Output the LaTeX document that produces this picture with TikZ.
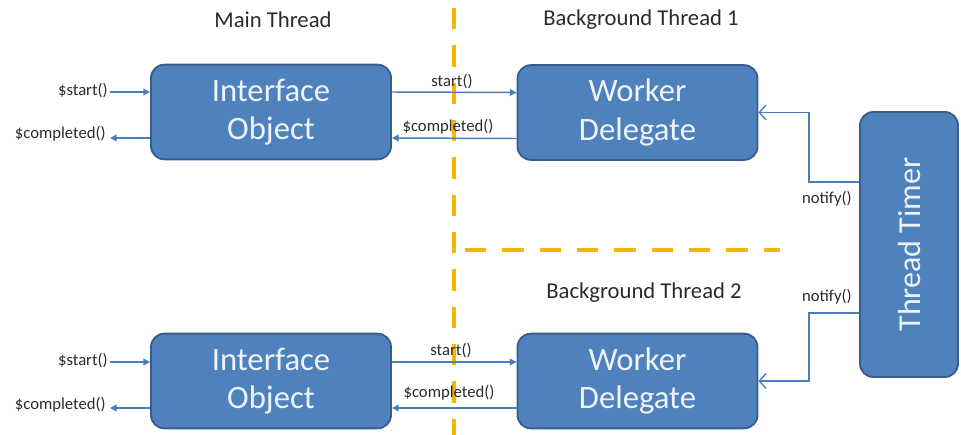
\documentclass[tikz,border=0pt]{standalone}
\usepackage{fontspec}
\usepackage{graphicx}
\setmainfont{Carlito}
\usetikzlibrary{arrows.meta,calc}
\definecolor{boxfill}{HTML}{4F81BD}
\definecolor{boxline}{HTML}{385D8A}
\definecolor{connc}{HTML}{4A7EBB}
\definecolor{threadc}{HTML}{F7B500}
\definecolor{txtc}{HTML}{2B2B2B}
\definecolor{boxtxt}{HTML}{EEF3FA}
\begin{document}
\begin{tikzpicture}[x=0.75pt,y=-0.75pt,
  box/.style={draw=boxline,line width=1.4pt,fill=boxfill,rounded corners=10pt,
    text=boxtxt,align=center,font=\fontsize{24.5}{29}\selectfont,
    minimum width=180pt,minimum height=71pt,inner sep=0pt},
  small/.style={text=txtc,font=\fontsize{12.5}{14}\selectfont,inner sep=0pt},
  header/.style={text=txtc,font=\fontsize{17}{20}\selectfont,inner sep=0pt},
  conn/.style={draw=connc,line width=1.1pt,-{Triangle[length=5pt,width=5pt]}},
  notifyline/.style={draw=connc,line width=1.1pt,-{Straight Barb[length=5pt,width=11pt,line width=1pt]}},
  ydash/.style={draw=threadc,line width=3pt,dash pattern=on 16pt off 12pt}]
\useasboundingbox (0,0) rectangle (961,435);

% thread separators
\draw[ydash] (454,8) -- (454,435);
\draw[ydash] (465,250) -- (780,250);

% boxes
\node[box] (io1) at (271,112) {Interface\\Object};
\node[box] (wd1) at (637.5,112.5) {Worker\\Delegate};
\node[box] (io2) at (271,381) {Interface\\Object};
\node[box] (wd2) at (637.5,381) {Worker\\Delegate};
\node[box,minimum width=73.5pt,minimum height=198.75pt,font=\fontsize{24}{28}\selectfont] (tt) at (909,244.5) {\rotatebox{90}{Thread Timer}};

% headers
\node[header] (h0) at (273,20) {Main Thread};
\node[header] (h1) at (641,20) {Background Thread 1};
\node[header] (h2) at (644,293) {Background Thread 2};

% external endpoints
\coordinate (s1) at (110,92);
\coordinate (c1) at (110,138);
\coordinate (s2) at (110,362);
\coordinate (c2) at (110,408);

% top row connectors
\draw[conn] (s1) -- (s1 -| io1.west);
\draw[conn] (c1 -| io1.west) -- (c1);
\draw[conn] ([yshift=15pt]io1.east) -- ([yshift=15pt]wd1.west);
\draw[conn] ([yshift=-19.5pt]wd1.west) -- ([yshift=-19.5pt]io1.east);

% bottom row connectors
\draw[conn] (s2) -- (s2 -| io2.west);
\draw[conn] (c2 -| io2.west) -- (c2);
\draw[conn] ([yshift=14.25pt]io2.east) -- ([yshift=14.25pt]wd2.west);
\draw[conn] ([yshift=-20.25pt]wd2.west) -- ([yshift=-20.25pt]io2.east);

% notify connectors
\draw[notifyline] (tt.west |- 0,182) -- ++(-50,0) |- (wd1.east);
\draw[notifyline] (tt.west |- 0,313) -- ++(-50,0) |- (wd2.east);

% labels
\node[small,anchor=east] (ls1) at (108,91) {\$start()};
\node[small,anchor=east] (lc1) at (106,134) {\$completed()};
\node[small,anchor=east] (ls2) at (108,361) {\$start()};
\node[small,anchor=east] (lc2) at (106,405) {\$completed()};
\node[small] (ms1) at (452,82) {start()};
\node[small] (mc1) at (448,127) {\$completed()};
\node[small] (ms2) at (451,351) {start()};
\node[small] (mc2) at (449,393) {\$completed()};
\node[small] (n1) at (827,199) {notify()};
\node[small] (n2) at (827,297) {notify()};
\end{tikzpicture}
\end{document}
